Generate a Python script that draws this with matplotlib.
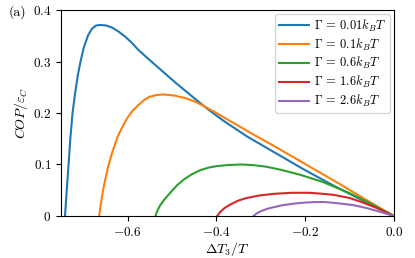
import matplotlib
matplotlib.use("Agg")
import matplotlib.pyplot as plt
from matplotlib.ticker import FuncFormatter

plt.rcParams['font.family'] = 'serif'
plt.rcParams['font.serif'] = ['cmr10', 'DejaVu Serif']
plt.rcParams['mathtext.fontset'] = 'cm'
plt.rcParams['axes.unicode_minus'] = True

labels = [r'$\Gamma\, =\, 0.01k_BT$', r'$\Gamma\, =\, 0.1k_BT$', r'$\Gamma\, =\, 0.6k_BT$',
          r'$\Gamma\, =\, 1.6k_BT$', r'$\Gamma\, =\, 2.6k_BT$']
colors = ['#1f77b4', '#ff7f0e', '#2ca02c', '#d62728', '#9467bd']

x_blue = [-0.741, -0.737, -0.733, -0.729, -0.724, -0.718, -0.712, -0.706, -0.699, -0.689,
          -0.680, -0.671, -0.661, -0.648, -0.635, -0.620, -0.605, -0.590, -0.575, -0.553,
          -0.52, -0.492, -0.45, -0.417, -0.384, -0.33, -0.256, -0.20, -0.136, -0.07, 0.0]
y_blue = [0.0, 0.05, 0.10, 0.15, 0.20, 0.24, 0.274, 0.300, 0.326, 0.351,
          0.364, 0.370, 0.371, 0.370, 0.366, 0.358, 0.348, 0.336, 0.322, 0.305,
          0.280, 0.259, 0.229, 0.206, 0.185, 0.154, 0.117, 0.089, 0.059, 0.030, 0.0]

x_orange = [-0.664, -0.660, -0.653, -0.644, -0.634, -0.621, -0.601, -0.588, -0.575, -0.563,
            -0.552, -0.535, -0.518, -0.495, -0.470, -0.445, -0.425, -0.400, -0.372, -0.32,
            -0.256, -0.19, -0.12, -0.06, 0.0]
y_orange = [0.0, 0.025, 0.060, 0.095, 0.125, 0.157, 0.190, 0.205, 0.216, 0.225,
            0.231, 0.235, 0.236, 0.234, 0.229, 0.221, 0.212, 0.200, 0.186, 0.160,
            0.129, 0.096, 0.061, 0.030, 0.0]

x_green = [-0.537, -0.533, -0.527, -0.518, -0.503, -0.488, -0.473, -0.455, -0.436, -0.417,
           -0.398, -0.372, -0.346, -0.32, -0.29, -0.256, -0.211, -0.16, -0.099, -0.05, 0.0]
y_green = [0.0, 0.010, 0.020, 0.031, 0.046, 0.060, 0.071, 0.081, 0.089, 0.094,
           0.097, 0.099, 0.100, 0.099, 0.096, 0.090, 0.080, 0.066, 0.044, 0.023, 0.0]

x_red = [-0.398, -0.392, -0.382, -0.369, -0.350, -0.331, -0.301, -0.27, -0.23, -0.19,
         -0.16, -0.136, -0.10, -0.076, -0.04, 0.0]
y_red = [0.0, 0.007, 0.015, 0.022, 0.030, 0.035, 0.040, 0.043, 0.045, 0.045,
         0.043, 0.041, 0.035, 0.028, 0.016, 0.0]

x_purple = [-0.316, -0.309, -0.30, -0.285, -0.271, -0.25, -0.225, -0.20, -0.178, -0.155,
            -0.13, -0.11, -0.091, -0.06, -0.039, 0.0]
y_purple = [0.0, 0.005, 0.009, 0.014, 0.017, 0.021, 0.024, 0.026, 0.027, 0.027,
            0.025, 0.023, 0.021, 0.015, 0.010, 0.0]

series = [(x_blue, y_blue), (x_orange, y_orange), (x_green, y_green),
          (x_red, y_red), (x_purple, y_purple)]

xticks = [-0.6, -0.4, -0.2, 0.0]
yticks = [0, 0.1, 0.2, 0.3, 0.4]

fig = plt.figure(figsize=(4.15, 2.58), dpi=100)
ax = fig.add_axes([0.147, 0.163, 0.802, 0.798])
for (xs, ys), c, lab in zip(series, colors, labels):
    ax.plot(xs, ys, color=c, lw=1.5, label=lab, solid_joinstyle='round')

ax.set_xlim(-0.75, 0.0)
ax.set_ylim(0, 0.4)
ax.set_xticks(xticks)
ax.set_yticks(yticks)
ax.xaxis.set_major_formatter(FuncFormatter(lambda v, p: r'$0.0$' if abs(v) < 1e-9 else r'$%.1f$' % v))
ax.yaxis.set_major_formatter(FuncFormatter(lambda v, p: r'$0$' if abs(v) < 1e-9 else r'$%.1f$' % v))
ax.tick_params(labelsize=9.5)
ax.set_xlabel(r'$\Delta T_3/T$', fontsize=10, labelpad=1)
ax.set_ylabel(r'$COP/\varepsilon_C$', fontsize=10, labelpad=2)
ax.legend(loc='upper right', fontsize=9, handlelength=2.4, labelspacing=0.22,
          borderaxespad=0.3, handletextpad=0.4, borderpad=0.3)
fig.text(0.02, 0.955, '(a)', fontsize=10, va='center', ha='left')
fig.savefig('out.png', dpi=100)
